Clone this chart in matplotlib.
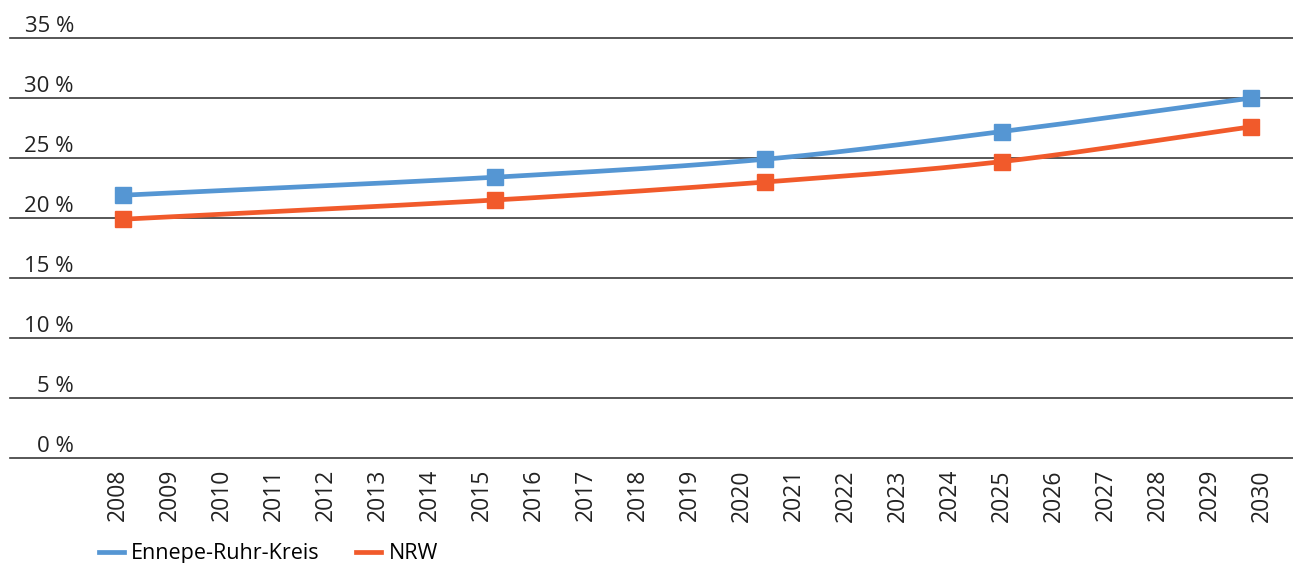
import numpy as np
import matplotlib
matplotlib.use("Agg")
import matplotlib.pyplot as plt
from matplotlib.lines import Line2D
import matplotlib.transforms as mtransforms

# --- data ---------------------------------------------------------------
years = list(range(2008, 2031))
point_years = [2008.1, 2015.25, 2020.45, 2025.0, 2029.8]
ennepe = [21.9, 23.4, 24.9, 27.2, 30.0]
nrw = [19.9, 21.5, 23.0, 24.7, 27.6]
y_ticks = [0, 5, 10, 15, 20, 25, 30, 35]
series_names = ["Ennepe-Ruhr-Kreis", "NRW"]
colors = ["#5596d3", "#f15a2b"]

plt.rcParams["font.family"] = ["Open Sans", "DejaVu Sans"]


def smooth(xs, ys, n=40):
    """Catmull-Rom spline through the points (smoothed line)."""
    p = np.column_stack([xs, ys]).astype(float)
    p = np.vstack([2 * p[0] - p[1], p, 2 * p[-1] - p[-2]])
    out = []
    t = np.linspace(0, 1, n)[:, None]
    for i in range(1, len(p) - 2):
        p0, p1, p2, p3 = p[i - 1], p[i], p[i + 1], p[i + 2]
        seg = 0.5 * ((2 * p1) + (-p0 + p2) * t + (2 * p0 - 5 * p1 + 4 * p2 - p3) * t ** 2
                     + (-p0 + 3 * p1 - 3 * p2 + p3) * t ** 3)
        out.append(seg if i == 1 else seg[1:])
    out = np.vstack(out)
    return out[:, 0], out[:, 1]


fig = plt.figure(figsize=(12.93, 5.63), dpi=100)
W, H = 1293, 563
ax = fig.add_axes([10 / W, (H - 458) / H, (1293 - 10) / W, (458 - 38) / H])

ax.set_xlim(2005.92, 2030.6)
ax.set_ylim(0, 35)

# horizontal gridlines
for v in y_ticks:
    ax.axhline(v, color="#3a3a3a", lw=1.2, zorder=1, clip_on=False)

# percentage labels sitting above each gridline
trans = mtransforms.blended_transform_factory(ax.transAxes, ax.transData)
for v in y_ticks:
    ax.text(64 / 1283, v + 0.05, f"{v} %", transform=trans, ha="right", va="bottom",
            fontsize=16, color="#222222")

for vals, c in zip([ennepe, nrw], colors):
    sx, sy = smooth(point_years, vals)
    ax.plot(sx, sy, color=c, lw=3.4, solid_capstyle="butt", zorder=3, clip_on=False)
    ax.plot(point_years, vals, ls="none", marker="s", ms=11.5, color=c, zorder=4,
            clip_on=False)

ax.set_xticks(years)
ax.set_xticklabels([str(y) for y in years], rotation=90, fontsize=16.5, color="#222222")
ax.tick_params(axis="x", length=0, pad=8)
ax.set_yticks([])
for s in ax.spines.values():
    s.set_visible(False)

handles = [Line2D([], [], color=c, lw=3.4) for c in colors]
fig.legend(handles, series_names, loc="lower left", bbox_to_anchor=(86 / W, -0.025),
           frameon=False, ncol=2, fontsize=15.5, handlelength=1.15, handletextpad=0.35,
           columnspacing=1.7, borderaxespad=0.2)

fig.savefig("out.png", dpi=100, facecolor="white")
